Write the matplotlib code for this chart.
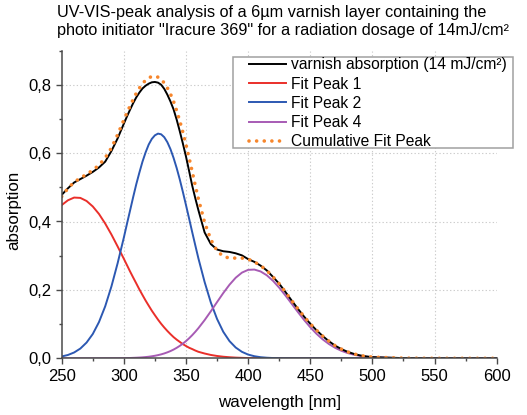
import matplotlib
matplotlib.use('Agg')
import matplotlib.pyplot as plt
from matplotlib.ticker import MultipleLocator, FuncFormatter
from matplotlib.patches import Rectangle

plt.rcParams['font.family'] = ['Liberation Sans', 'DejaVu Sans']

# wavelength grid [nm] (denser around the main band)
wavelength = [250, 255, 260, 265, 270, 275, 280, 285, 290, 295, 300,
              302.5, 305, 307.5, 310, 312.5, 315, 317.5, 320, 322.5, 325, 327.5,
              330, 332.5, 335, 337.5, 340, 342.5, 345, 347.5, 350, 352.5, 355, 357.5, 360,
              365, 370, 375, 380, 385, 390, 395, 400, 405, 410, 415, 420, 425, 430,
              435, 440, 445, 450, 455, 460, 465, 470, 475, 480, 485, 490, 495, 500,
              525, 550, 575, 600]

# measured varnish absorption (14 mJ/cm²)
absorption = [0.478, 0.497, 0.514, 0.524, 0.534, 0.545, 0.558, 0.575, 0.606, 0.643, 0.686,
              0.707, 0.727, 0.746, 0.763, 0.777, 0.789, 0.797, 0.803, 0.807, 0.808, 0.806,
              0.800, 0.788, 0.771, 0.751, 0.728, 0.698, 0.664, 0.628, 0.590, 0.548, 0.505, 0.468, 0.433,
              0.368, 0.334, 0.318, 0.313, 0.311, 0.307, 0.301, 0.290, 0.282, 0.271, 0.257, 0.238, 0.218, 0.194,
              0.169, 0.145, 0.122, 0.101, 0.082, 0.065, 0.050, 0.037, 0.027, 0.019, 0.013, 0.0085, 0.0055, 0.0035,
              0.0005, 0.0, 0.0, 0.0]

fit_peak_1 = [0.448, 0.462, 0.470, 0.469, 0.460, 0.444, 0.422, 0.394, 0.362, 0.327, 0.291,
              0.2725, 0.254, 0.2363, 0.219, 0.2014, 0.185, 0.1689, 0.154, 0.1393, 0.126, 0.1130,
              0.101, 0.0901, 0.080, 0.0707, 0.062, 0.0546, 0.048, 0.0414, 0.036, 0.0309, 0.027, 0.0227, 0.019,
              0.014, 0.0098, 0.0068, 0.0046, 0.0031, 0.0020, 0.0013, 0.0008, 0.0005, 0.0003, 0.0002, 0.0001, 0.0001, 0.0,
              0.0, 0.0, 0.0, 0.0, 0.0, 0.0, 0.0, 0.0, 0.0, 0.0, 0.0, 0.0, 0.0, 0.0,
              0.0, 0.0, 0.0, 0.0]

fit_peak_2 = [0.0054, 0.0097, 0.017, 0.0285, 0.046, 0.071, 0.106, 0.152, 0.210, 0.278, 0.353,
              0.393, 0.432, 0.4713, 0.509, 0.543, 0.575, 0.602, 0.625, 0.6415, 0.652, 0.657,
              0.655, 0.6466, 0.632, 0.6117, 0.586, 0.5564, 0.523, 0.4864, 0.448, 0.4088, 0.369, 0.3302, 0.292,
              0.223, 0.163, 0.115, 0.0775, 0.0503, 0.0315, 0.0189, 0.0109, 0.0061, 0.0032, 0.0017, 0.0008, 0.0004, 0.0002,
              0.0001, 0.0, 0.0, 0.0, 0.0, 0.0, 0.0, 0.0, 0.0, 0.0, 0.0, 0.0, 0.0, 0.0,
              0.0, 0.0, 0.0, 0.0]

fit_peak_4 = [0.0, 0.0, 0.0, 0.0, 0.0, 0.0, 0.0, 0.0001, 0.0002, 0.0003, 0.0005,
              0.0007, 0.0009, 0.0013, 0.0017, 0.0022, 0.0028, 0.0036, 0.0046, 0.0059, 0.0074, 0.0093,
              0.0115, 0.0142, 0.0174, 0.0211, 0.0255, 0.0306, 0.0364, 0.0429, 0.0503, 0.0585, 0.0676, 0.0775, 0.0882,
              0.1117, 0.1375, 0.1644, 0.1908, 0.2151, 0.2356, 0.2505, 0.2586, 0.2595, 0.254, 0.2428, 0.2266, 0.2065, 0.1837,
              0.1597, 0.1355, 0.1122, 0.0908, 0.0717, 0.0553, 0.0417, 0.0307, 0.0220, 0.0154, 0.0106, 0.0071, 0.0046, 0.0029,
              0.0002, 0.0, 0.0, 0.0]

cumulative_fit = [0.473, 0.497, 0.515, 0.527, 0.538, 0.550, 0.565, 0.586, 0.615, 0.654, 0.697,
                  0.718, 0.738, 0.757, 0.775, 0.790, 0.803, 0.813, 0.820, 0.824, 0.825, 0.822,
                  0.816, 0.805, 0.791, 0.773, 0.751, 0.724, 0.694, 0.661, 0.625, 0.586, 0.546, 0.505, 0.466,
                  0.397, 0.347, 0.314, 0.298, 0.293, 0.293, 0.293, 0.290, 0.282, 0.271, 0.257, 0.238, 0.218, 0.194,
                  0.169, 0.145, 0.122, 0.101, 0.082, 0.065, 0.050, 0.037, 0.027, 0.019, 0.013, 0.0085, 0.0055, 0.0035,
                  0.0005, 0.0, 0.0, 0.0]

x_grid = [300, 350, 400, 450, 500, 550]
y_grid = [0.2, 0.4, 0.6, 0.8]

W, H = 527, 415
fig = plt.figure(figsize=(W / 100, H / 100), dpi=100)
ax = fig.add_axes([61.7 / W, 1 - 358.3 / H, 435 / W, 307.8 / H])

for xv in x_grid:
    ax.axvline(xv, color='#cccccc', linestyle=(0, (1.2, 2)), linewidth=0.8, zorder=0)
for yv in y_grid:
    ax.axhline(yv, color='#cccccc', linestyle=(0, (1.2, 2)), linewidth=0.8, zorder=0)

l1, = ax.plot(wavelength, fit_peak_1, color='#ea2f2a', lw=1.4, label='Fit Peak 1')
l2, = ax.plot(wavelength, fit_peak_2, color='#2c58b2', lw=1.4, label='Fit Peak 2')
l4, = ax.plot(wavelength, fit_peak_4, color='#a75bb4', lw=1.4, label='Fit Peak 4')
l0, = ax.plot(wavelength, absorption, color='black', lw=1.4,
              label='varnish absorption (14 mJ/cm²)')
lc, = ax.plot(wavelength, cumulative_fit, color='#f7862c', lw=2.6,
              linestyle=(0, (0.01, 2.1)), dash_capstyle='round',
              label='Cumulative Fit Peak')

ax.set_xlim(250, 600)
ax.set_ylim(0, 0.9)
ax.xaxis.set_major_locator(MultipleLocator(50))
ax.xaxis.set_minor_locator(MultipleLocator(25))
ax.yaxis.set_major_locator(MultipleLocator(0.2))
ax.yaxis.set_minor_locator(MultipleLocator(0.1))
ax.yaxis.set_major_formatter(FuncFormatter(lambda v, p: f'{v:.1f}'.replace('.', ',')))

for side in ['top', 'right']:
    ax.spines[side].set_visible(False)
for side in ['left', 'bottom']:
    ax.spines[side].set_color('#4a4a4a')
    ax.spines[side].set_linewidth(1.1)

ax.tick_params(which='major', direction='out', length=4, width=1.0, color='#4a4a4a',
               labelsize=12, pad=3.5)
ax.tick_params(which='minor', direction='out', length=2.5, width=1.0, color='#4a4a4a')

ax.set_xlabel('wavelength [nm]', fontsize=12.2)
ax.set_ylabel('absorption', fontsize=12.2)
ax.xaxis.set_label_coords(0.5, -0.118)
ax.yaxis.set_label_coords(-0.094, 0.48)

fig.text(57 / W, 1 - 4.5 / H,
         'UV-VIS-peak analysis of a 6\u00b5m varnish layer containing the\n'
         'photo initiator "Iracure 369" for a radiation dosage of 14mJ/cm\u00b2',
         ha='left', va='top', fontsize=11.7, linespacing=1.25)

# legend box (sticks out past the right end of the axes)
box = Rectangle((232.7 / W, 1 - 148.3 / H), 280.6 / W, 91 / H,
                transform=fig.transFigure, facecolor='white',
                edgecolor='#a0a0a0', linewidth=1.1, zorder=3)
fig.add_artist(box)
leg = fig.legend([l0, l1, l2, l4, lc],
                 [h.get_label() for h in [l0, l1, l2, l4, lc]],
                 loc='upper left', bbox_to_anchor=(249 / W, 1 - 57.5 / H),
                 frameon=False, borderpad=0, borderaxespad=0,
                 handlelength=2.35, handletextpad=0.35, labelspacing=0.27,
                 fontsize=11.25)
leg.set_zorder(4)

fig.savefig('out.png', dpi=100)
